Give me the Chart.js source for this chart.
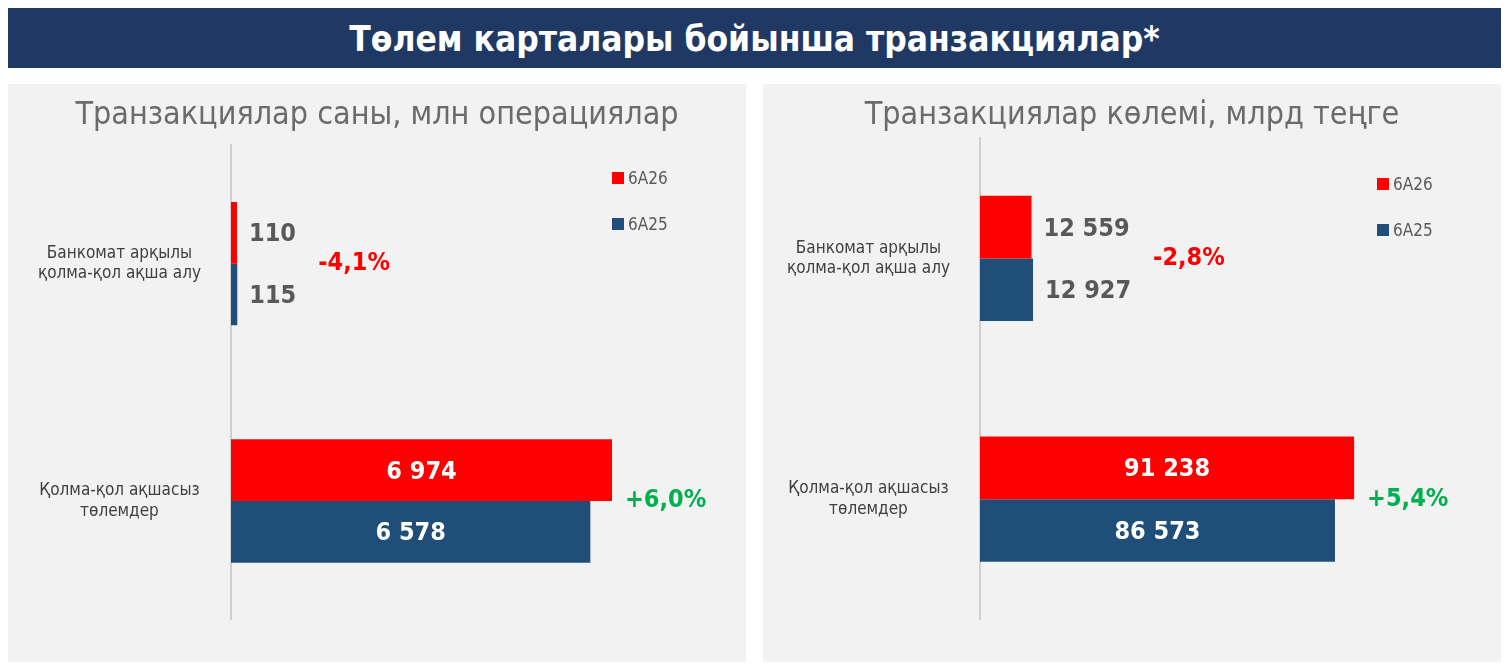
<!DOCTYPE html>
<html>
<head>
<meta charset="utf-8">
<script src="https://cdn.jsdelivr.net/npm/chart.js@4"></script>
<style>
  body { margin:0; background:#fff; width:1509px; height:668px; position:relative; overflow:hidden;
         font-family:"Liberation Sans Narrow","DejaVu Sans Condensed",sans-serif; }
  .head { position:absolute; left:8px; top:8px; width:1493px; height:60px; background:#1f3864;
          color:#fff; font-size:35px; font-weight:bold; text-align:center; line-height:62px; }
  .panel { position:absolute; top:84px; width:738px; height:578px; background:#f2f2f2; }
  .ptitle { position:absolute; top:10px; width:100%; text-align:center; font-size:32px; color:#6b6b6b; }
  .legend { position:absolute; font-size:17px; color:#595959; }
  .legend div { height:46px; }
  .legend span { display:inline-block; width:12px; height:12px; margin-right:4px; }
  canvas { position:absolute; left:0; top:0; }
</style>
</head>
<body>
<div class="head">Төлем карталары бойынша транзакциялар*</div>
<div class="panel" style="left:8px"><canvas id="c1"></canvas><div class="ptitle">Транзакциялар саны, млн операциялар</div>
  <div class="legend" style="left:604px;top:84px"><div><span style="background:#ff0000"></span>6А26</div><div><span style="background:#1f4e79"></span>6А25</div></div></div>
<div class="panel" style="left:763px"><canvas id="c2"></canvas><div class="ptitle">Транзакциялар көлемі, млрд теңге</div>
  <div class="legend" style="left:614px;top:90px"><div><span style="background:#ff0000"></span>6А26</div><div><span style="background:#1f4e79"></span>6А25</div></div></div>
<script>
const categories = [["Банкомат арқылы", "қолма-қол ақша алу"], ["Қолма-қол ақшасыз", "төлемдер"]];
const seriesNames = ["6А26", "6А25"];
const countCur = [110, 6974];
const countPrev = [115, 6578];
const countPct = ["-4,1%", "+6,0%"];
const volCur = [12559, 91238];
const volPrev = [12927, 86573];
const volPct = ["-2,8%", "+5,4%"];

const RED = "#ff0000", BLUE = "#1f4e79", GREEN = "#00b050";
const FONT = '"Liberation Sans Narrow","DejaVu Sans Condensed",sans-serif';

function fmt(v) { return String(v).replace(/\B(?=(\d{3})+(?!\d))/g, " "); }

const labelPlugin = {
  id: "labels",
  afterDatasetsDraw(chart, args, opts) {
    const ctx = chart.ctx;
    ctx.save();
    ctx.font = "bold 25px " + FONT;
    ctx.textBaseline = "middle";
    const ends = [];
    chart.data.datasets.forEach((ds, di) => {
      chart.getDatasetMeta(di).data.forEach((bar, i) => {
        const txt = fmt(ds.data[i]);
        const w = ctx.measureText(txt).width;
        const barW = bar.x - bar.base;
        let end;
        if (barW > w + 20) {
          ctx.fillStyle = "#fff"; ctx.textAlign = "center";
          ctx.fillText(txt, (bar.x + bar.base) / 2, bar.y + 2);
          end = bar.x + 13;
        } else {
          ctx.fillStyle = "#595959"; ctx.textAlign = "left";
          ctx.fillText(txt, bar.x + 12, bar.y + 2);
          end = bar.x + 12 + w + 22;
        }
        ends[i] = Math.max(ends[i] || 0, end);
      });
    });
    const y0 = chart.getDatasetMeta(0).data, y1 = chart.getDatasetMeta(1).data;
    ctx.textAlign = "left";
    opts.pct.forEach((p, i) => {
      ctx.fillStyle = p[0] === "-" ? RED : GREEN;
      ctx.fillText(p, ends[i], (y0[i].y + y1[i].y) / 2);
    });
    ctx.restore();
  }
};

function makeChart(id, cur, prev, pct, max, axisW, pad) {
  new Chart(document.getElementById(id), {
    type: "bar",
    data: {
      labels: categories,
      datasets: [
        { label: seriesNames[0], data: cur, backgroundColor: RED },
        { label: seriesNames[1], data: prev, backgroundColor: BLUE }
      ]
    },
    options: {
      indexAxis: "y",
      responsive: false,
      animation: false,
      devicePixelRatio: 1,
      layout: { padding: pad },
      datasets: { bar: { categoryPercentage: 0.52, barPercentage: 1 } },
      plugins: { legend: { display: false }, tooltip: { enabled: false }, labels: { pct: pct } },
      scales: {
        x: { display: false, min: 0, max: max },
        y: {
          grid: { display: false },
          border: { display: true, color: "#d0d0d0", width: 2 },
          ticks: { color: "#404040", font: { family: FONT, size: 17 }, padding: 22, crossAlign: "center" },
          afterFit(s) { s.width = axisW; }
        }
      }
    },
    plugins: [labelPlugin]
  });
}
document.getElementById("c1").width = 738; document.getElementById("c1").height = 578;
document.getElementById("c2").width = 738; document.getElementById("c2").height = 578;
makeChart("c1", countCur, countPrev, countPct, 9317, 223, { top: 61, right: 6, bottom: -41, left: 0 });
makeChart("c2", volCur, volPrev, volPct, 125600, 217, { top: 54, right: 6, bottom: -15, left: 0 });
</script>
</body>
</html>
